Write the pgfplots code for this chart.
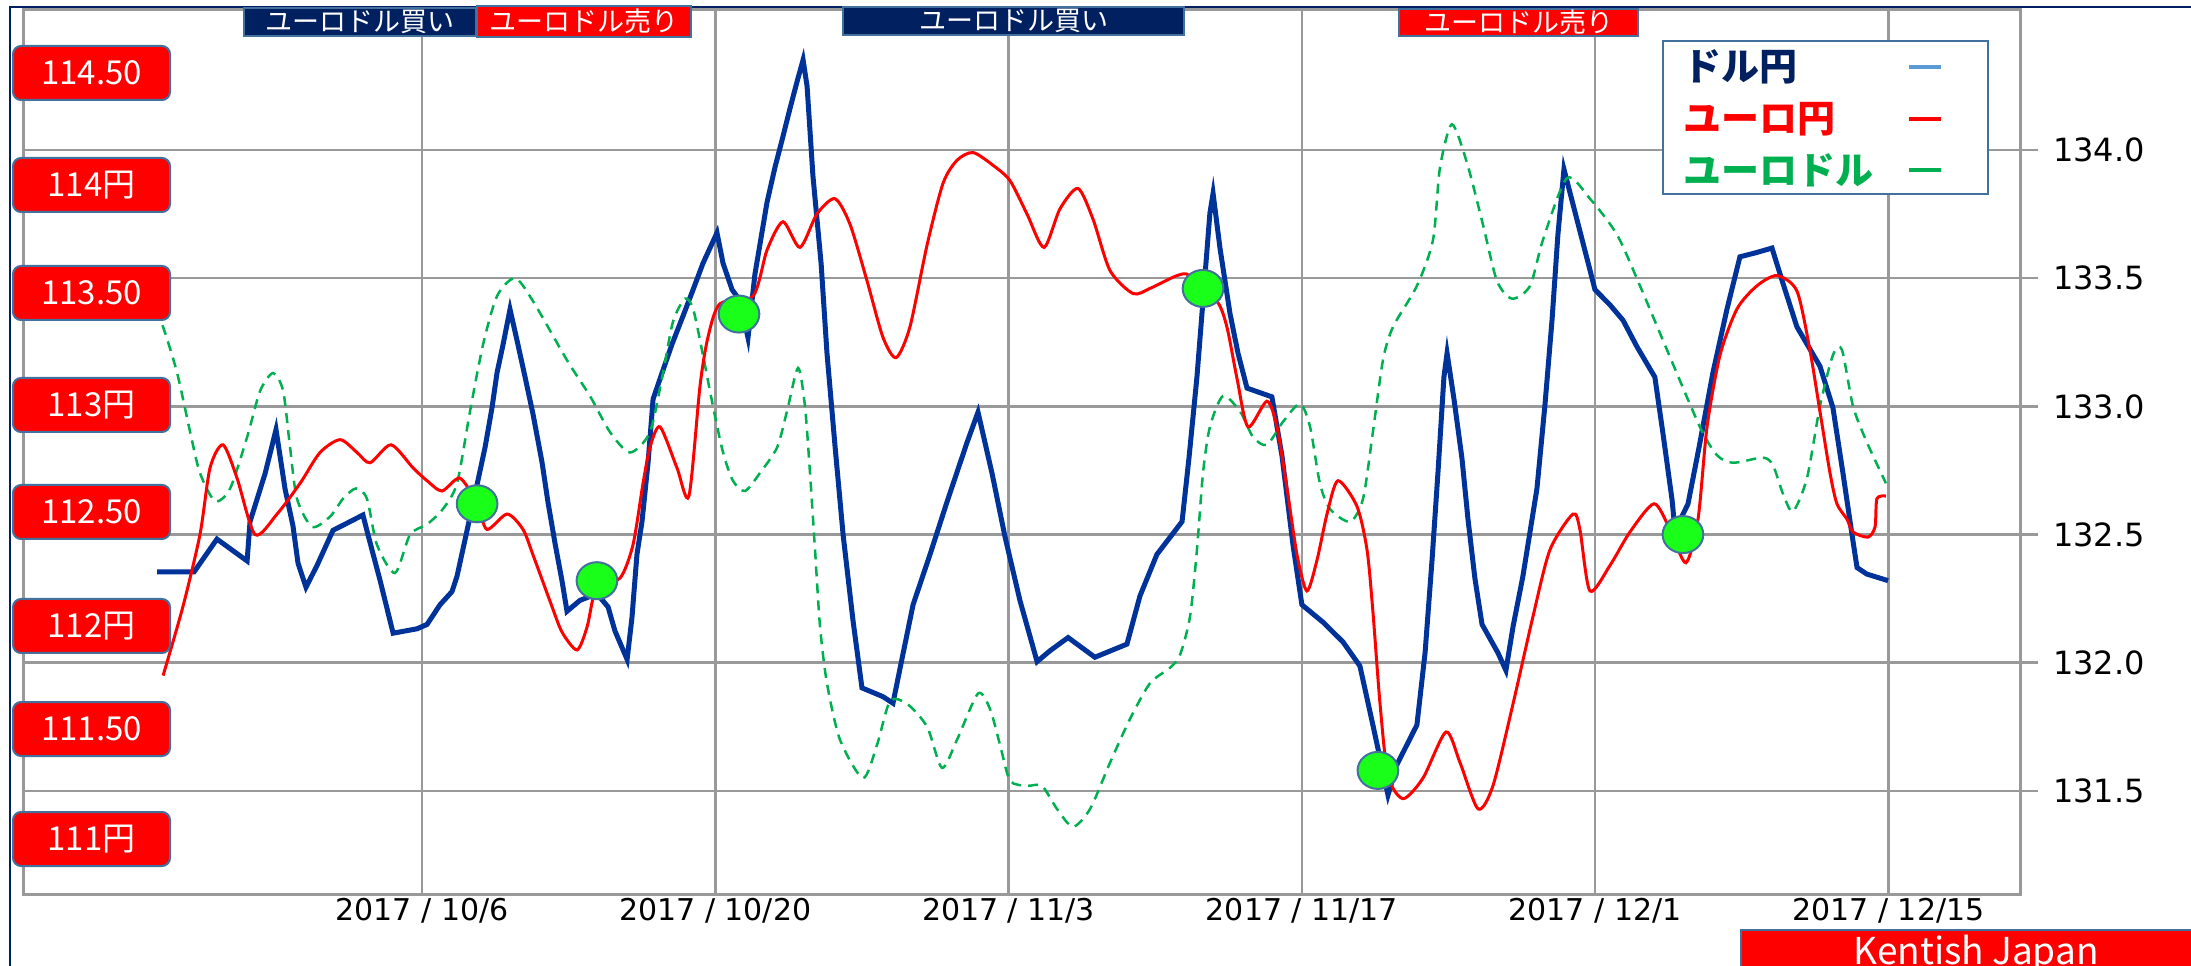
\documentclass[border=0pt]{standalone}
\usepackage{fontspec}
\setmainfont{DejaVu Sans}
\newfontfamily\jp{Noto Sans CJK JP}
\usepackage{pgfplots}
\pgfplotsset{compat=1.18}
\usepackage{pgfplotstable}
\definecolor{gridgray}{RGB}{153,153,153}
\definecolor{navy}{RGB}{0,32,96}
\definecolor{boxborder}{RGB}{65,113,156}
\definecolor{usdjpy}{RGB}{0,51,153}
\definecolor{eurusd}{RGB}{0,176,80}
\definecolor{ballgreen}{RGB}{25,255,25}
\definecolor{legblue}{RGB}{91,155,213}

% USD/JPY (left scale, boxes)
\pgfplotstableread{
d v
-12.65 112.22
-10.88 112.22
-9.79 112.37
-8.35 112.27
-8.21 112.45
-7.49 112.67
-6.97 112.87
-6.54 112.60
-6.16 112.43
-5.92 112.26
-5.54 112.15
-5.01 112.25
-4.25 112.41
-2.82 112.48
-2.58 112.39
-2.00 112.18
-1.38 111.94
-0.24 111.96
0.24 111.98
0.86 112.07
1.43 112.13
1.67 112.20
2.15 112.41
2.63 112.62
3.01 112.79
3.34 112.97
3.58 113.13
3.87 113.26
4.20 113.42
4.53 113.28
4.92 113.11
5.30 112.94
5.73 112.72
6.01 112.54
6.35 112.35
6.68 112.18
6.92 112.04
7.54 112.09
8.35 112.12
8.88 112.06
9.21 111.95
9.79 111.82
10.02 112.01
10.26 112.30
10.50 112.45
10.79 112.72
11.03 113.01
11.46 113.13
11.93 113.26
12.46 113.39
12.94 113.51
13.41 113.63
14.08 113.77
14.37 113.63
14.80 113.51
15.18 113.46
15.56 113.29
15.89 113.58
16.47 113.91
16.85 114.07
17.23 114.21
17.57 114.34
17.90 114.46
18.19 114.56
18.38 114.44
18.66 114.03
19.05 113.63
19.33 113.22
19.71 112.80
20.10 112.39
20.57 112.00
21.00 111.69
22.00 111.65
22.48 111.62
22.82 111.78
23.44 112.07
24.25 112.30
25.06 112.54
26.01 112.81
26.54 112.95
27.21 112.67
27.83 112.38
28.54 112.09
29.36 111.81
29.98 111.86
30.84 111.92
32.12 111.83
33.65 111.89
34.27 112.11
35.08 112.30
36.28 112.45
36.61 112.74
36.99 113.11
37.28 113.46
37.61 113.86
37.76 113.95
38.09 113.70
38.57 113.40
38.95 113.22
39.38 113.06
40.57 113.02
41.05 112.75
41.58 112.34
42.00 112.07
43.01 111.99
43.96 111.90
44.77 111.79
45.39 111.52
46.11 111.20
46.54 111.34
47.49 111.52
47.88 111.85
48.21 112.27
48.50 112.68
48.78 113.11
48.93 113.22
49.26 113.01
49.64 112.74
49.93 112.46
50.26 112.19
50.60 111.98
51.36 111.85
51.74 111.77
52.08 111.97
52.55 112.20
53.22 112.60
53.60 112.98
53.94 113.37
54.22 113.76
54.51 114.06
55.13 113.83
55.75 113.60
55.99 113.51
56.71 113.44
57.33 113.37
57.99 113.25
58.85 113.11
59.24 112.85
59.67 112.55
59.81 112.41
60.43 112.53
61.00 112.81
61.62 113.13
62.29 113.42
62.91 113.66
63.72 113.68
64.44 113.70
64.96 113.54
65.63 113.34
66.73 113.16
67.35 112.97
67.83 112.67
68.26 112.39
68.50 112.24
68.97 112.21
69.98 112.18
}\usdjpytab

% EUR/JPY (right scale)
\pgfplotstableread{
d v
-12.36 131.95
-11.41 132.22
-10.60 132.50
-10.12 132.76
-9.50 132.85
-8.83 132.72
-7.97 132.50
-6.92 132.58
-5.82 132.70
-4.87 132.82
-3.91 132.87
-3.10 132.82
-2.48 132.78
-1.48 132.85
-0.43 132.76
0.24 132.71
0.95 132.67
1.81 132.72
2.63 132.62
3.10 132.52
4.06 132.58
4.82 132.52
5.30 132.42
6.11 132.24
6.68 132.12
7.40 132.05
7.88 132.14
8.35 132.30
9.45 132.33
10.07 132.46
10.55 132.70
10.88 132.84
11.36 132.92
12.17 132.76
12.74 132.65
13.27 133.08
13.65 133.27
14.22 133.40
15.80 133.43
16.47 133.61
17.23 133.72
18.04 133.62
18.85 133.75
19.71 133.81
20.43 133.71
21.24 133.49
22.00 133.27
22.63 133.19
23.29 133.31
24.11 133.63
24.87 133.87
25.54 133.96
26.30 133.99
27.26 133.94
28.07 133.88
28.88 133.75
29.69 133.62
30.45 133.77
31.31 133.85
32.03 133.73
32.84 133.53
33.94 133.44
34.75 133.46
36.04 133.51
36.66 133.51
37.95 133.41
38.42 133.31
38.90 133.11
39.43 132.92
40.33 133.02
40.81 132.92
41.29 132.68
41.77 132.42
42.24 132.28
42.72 132.40
43.20 132.58
43.72 132.71
44.63 132.61
45.11 132.44
45.39 132.20
45.73 131.84
46.11 131.56
46.83 131.47
47.78 131.55
48.88 131.73
49.55 131.61
50.41 131.43
51.12 131.52
52.08 131.84
53.03 132.18
53.84 132.44
54.94 132.58
55.27 132.52
55.75 132.28
56.71 132.38
57.66 132.51
58.81 132.62
59.57 132.52
60.33 132.39
60.91 132.56
61.34 132.92
61.96 133.20
62.77 133.38
63.72 133.47
64.68 133.51
65.63 133.45
66.25 133.22
66.73 132.98
67.21 132.74
67.54 132.62
68.02 132.56
68.31 132.51
69.02 132.49
69.36 132.53
69.45 132.64
69.88 132.65
}\eurjpytab

% EUR/USD (drawn on the right scale)
\pgfplotstableread{
d v
-12.98 133.44
-12.36 133.31
-11.69 133.13
-11.07 132.90
-10.60 132.74
-9.88 132.63
-9.16 132.68
-8.35 132.88
-7.73 133.06
-7.11 133.13
-6.63 133.06
-6.30 132.84
-5.97 132.64
-5.25 132.53
-4.39 132.57
-3.77 132.64
-3.15 132.68
-2.63 132.64
-2.15 132.46
-1.29 132.35
-0.57 132.50
0.24 132.54
1.00 132.60
1.67 132.70
2.29 132.98
2.91 133.24
3.58 133.43
4.44 133.50
5.30 133.41
6.92 133.18
8.02 133.04
8.97 132.90
9.93 132.82
10.88 132.90
11.50 133.13
11.98 133.33
12.55 133.42
12.94 133.38
13.41 133.20
13.89 133.00
14.37 132.82
14.84 132.71
15.42 132.67
16.13 132.74
16.95 132.84
17.42 132.98
17.95 133.15
18.28 133.00
18.52 132.74
18.76 132.44
19.00 132.14
19.33 131.92
19.95 131.70
21.05 131.55
21.72 131.68
22.34 131.85
23.15 131.84
24.11 131.75
24.82 131.59
25.54 131.70
26.54 131.88
27.11 131.82
27.59 131.68
28.07 131.54
28.88 131.52
29.59 131.52
30.31 131.43
31.07 131.36
31.89 131.43
32.84 131.61
33.79 131.78
34.75 131.92
35.70 131.98
36.18 132.03
36.66 132.18
36.99 132.44
37.28 132.74
37.61 132.92
38.23 133.04
39.05 132.98
39.67 132.88
40.33 132.85
41.10 132.94
41.91 133.01
42.39 132.92
42.86 132.70
43.34 132.60
44.30 132.55
44.92 132.64
45.39 132.90
45.87 133.18
46.35 133.31
47.49 133.47
48.26 133.65
48.59 133.93
49.16 134.10
49.88 133.95
50.64 133.71
51.31 133.49
52.03 133.42
52.89 133.47
53.51 133.65
54.65 133.89
55.75 133.81
57.04 133.67
58.14 133.47
59.43 133.22
61.00 132.92
61.81 132.81
62.58 132.78
64.01 132.80
64.49 132.77
64.96 132.66
65.44 132.59
66.11 132.72
66.73 133.00
67.35 133.20
67.78 133.22
68.31 133.00
68.97 132.86
69.88 132.70
}\eurusdtab

% signal markers (on EUR/JPY)
\pgfplotstableread{
d v
2.63 132.62
8.35 132.32
15.13 133.36
37.28 133.46
45.63 131.58
60.19 132.50
}\ballstab

\pgfplotsset{
  mycommon/.style={scale only axis, width=998pt, height=442pt,
    at={(12pt,35.5pt)}, anchor=south west, xmin=-19, xmax=76.28},
}
\tikzset{
  lbox/.style={draw=boxborder, line width=1pt, fill=red, rounded corners=4pt,
    minimum width=78.5pt, minimum height=27pt, inner sep=0pt, text=white,
    font=\jp\fontsize{16.5}{16.5}\selectfont},
  tbox/.style={draw=boxborder, line width=1pt, inner sep=0pt, text=white,
    font=\jp\fontsize{13.5}{13.5}\selectfont},
}

\begin{document}
\begin{tikzpicture}
\useasboundingbox (0,0) rectangle (1095.5pt,482.5pt);
\clip (0,0) rectangle (1095.5pt,482.5pt);

\draw[navy, line width=1pt] (5pt,-2pt) -- (5pt,479pt) -- (1100pt,479pt);

% grid / ticks axis
\begin{axis}[mycommon, ymin=131.098, ymax=134.546,
  xtick={0,14,28,42,56,70},
  xticklabels={2017 / 10/6, 2017 / 10/20, 2017 / 11/3, 2017 / 11/17, 2017 / 12/1, 2017 / 12/15},
  ytick={131.5,132,132.5,133,133.5,134},
  xmajorgrids, ymajorgrids,
  grid style={gridgray, line width=1.25pt},
  axis line style={gridgray, line width=1.5pt},
  ytick pos=right, yticklabel pos=right, xtick pos=bottom,
  tick align=outside, major tick length=9pt,
  xtick style={draw=none},
  ytick style={gridgray, line width=1.25pt},
  xticklabel style={font=\fontsize{15}{15}\selectfont, black, yshift=9pt, inner sep=2pt},
  yticklabel style={font=\fontsize{16}{16}\selectfont, black, xshift=4pt,
    /pgf/number format/fixed, /pgf/number format/fixed zerofill, /pgf/number format/precision=1},
  /pgf/number format/assume math mode=true,
]
\addplot[draw=none] coordinates {(0,132)};
\end{axis}

% USD/JPY
\begin{axis}[mycommon, ymin=110.748, ymax=114.788, hide axis]
\addplot[usdjpy, line width=2.5pt, sharp plot] table[x=d, y=v] {\usdjpytab};
\end{axis}

% EUR/USD, EUR/JPY, markers
\begin{axis}[mycommon, ymin=131.098, ymax=134.546, hide axis]
\addplot[eurusd, line width=1.25pt, dash pattern=on 5pt off 3.5pt, smooth, tension=0.45] table[x=d, y=v] {\eurusdtab};
\addplot[red, line width=1.5pt, smooth, tension=0.45] table[x=d, y=v] {\eurjpytab};
\addplot[only marks, mark=*, mark size=9.25pt,
  mark options={xscale=1.1, fill=ballgreen, draw=boxborder, line width=1pt}] table[x=d, y=v] {\ballstab};
\end{axis}

% left price boxes
\node[lbox] at (45.75pt,446pt) {114.50};
\node[lbox] at (45.75pt,390pt) {114円};
\node[lbox] at (45.75pt,336pt) {113.50};
\node[lbox] at (45.75pt,280pt) {113円};
\node[lbox] at (45.75pt,226.5pt) {112.50};
\node[lbox] at (45.75pt,169.5pt) {112円};
\node[lbox] at (45.75pt,118pt) {111.50};
\node[lbox] at (45.75pt,63pt) {111円};

% top signal boxes
\node[tbox, fill=navy, minimum width=116pt, minimum height=14pt] at (180pt,471.5pt) {ユーロドル買い};
\node[tbox, fill=red, minimum width=107pt, minimum height=15.5pt] at (292pt,471.75pt) {ユーロドル売り};
\node[tbox, fill=navy, minimum width=170.5pt, minimum height=14pt] at (506.75pt,472pt) {ユーロドル買い};
\node[tbox, fill=red, minimum width=119.5pt, minimum height=13.5pt] at (759.25pt,471.25pt) {ユーロドル売り};

% legend
\node[draw=boxborder, line width=1pt, fill=white, minimum width=162.5pt, minimum height=76.5pt, inner sep=0pt, anchor=south west] at (831pt,385pt) {};
\node[anchor=west, inner sep=0pt, text=navy, font=\jp\bfseries\fontsize{19}{19}\selectfont] at (841.5pt,449pt) {ドル円};
\node[anchor=west, inner sep=0pt, text=red, font=\jp\bfseries\fontsize{19}{19}\selectfont] at (841.5pt,423pt) {ユーロ円};
\node[anchor=west, inner sep=0pt, text=eurusd, font=\jp\bfseries\fontsize{19}{19}\selectfont] at (841.5pt,397.5pt) {ユーロドル};
\draw[legblue, line width=2pt] (954.5pt,449pt) -- (970.5pt,449pt);
\draw[red, line width=2pt] (954.5pt,423pt) -- (970.5pt,423pt);
\draw[eurusd, line width=2pt] (954.5pt,397.5pt) -- (970.5pt,397.5pt);

% credit
\node[draw=boxborder, line width=1pt, fill=red, anchor=south west, minimum width=240pt, minimum height=29.5pt, inner sep=0pt] at (870pt,-12.5pt) {};
\node[text=white, font=\jp\fontsize{18.5}{18.5}\selectfont, anchor=base, inner sep=0pt] at (988pt,0.5pt) {Kentish Japan};
\end{tikzpicture}
\end{document}
